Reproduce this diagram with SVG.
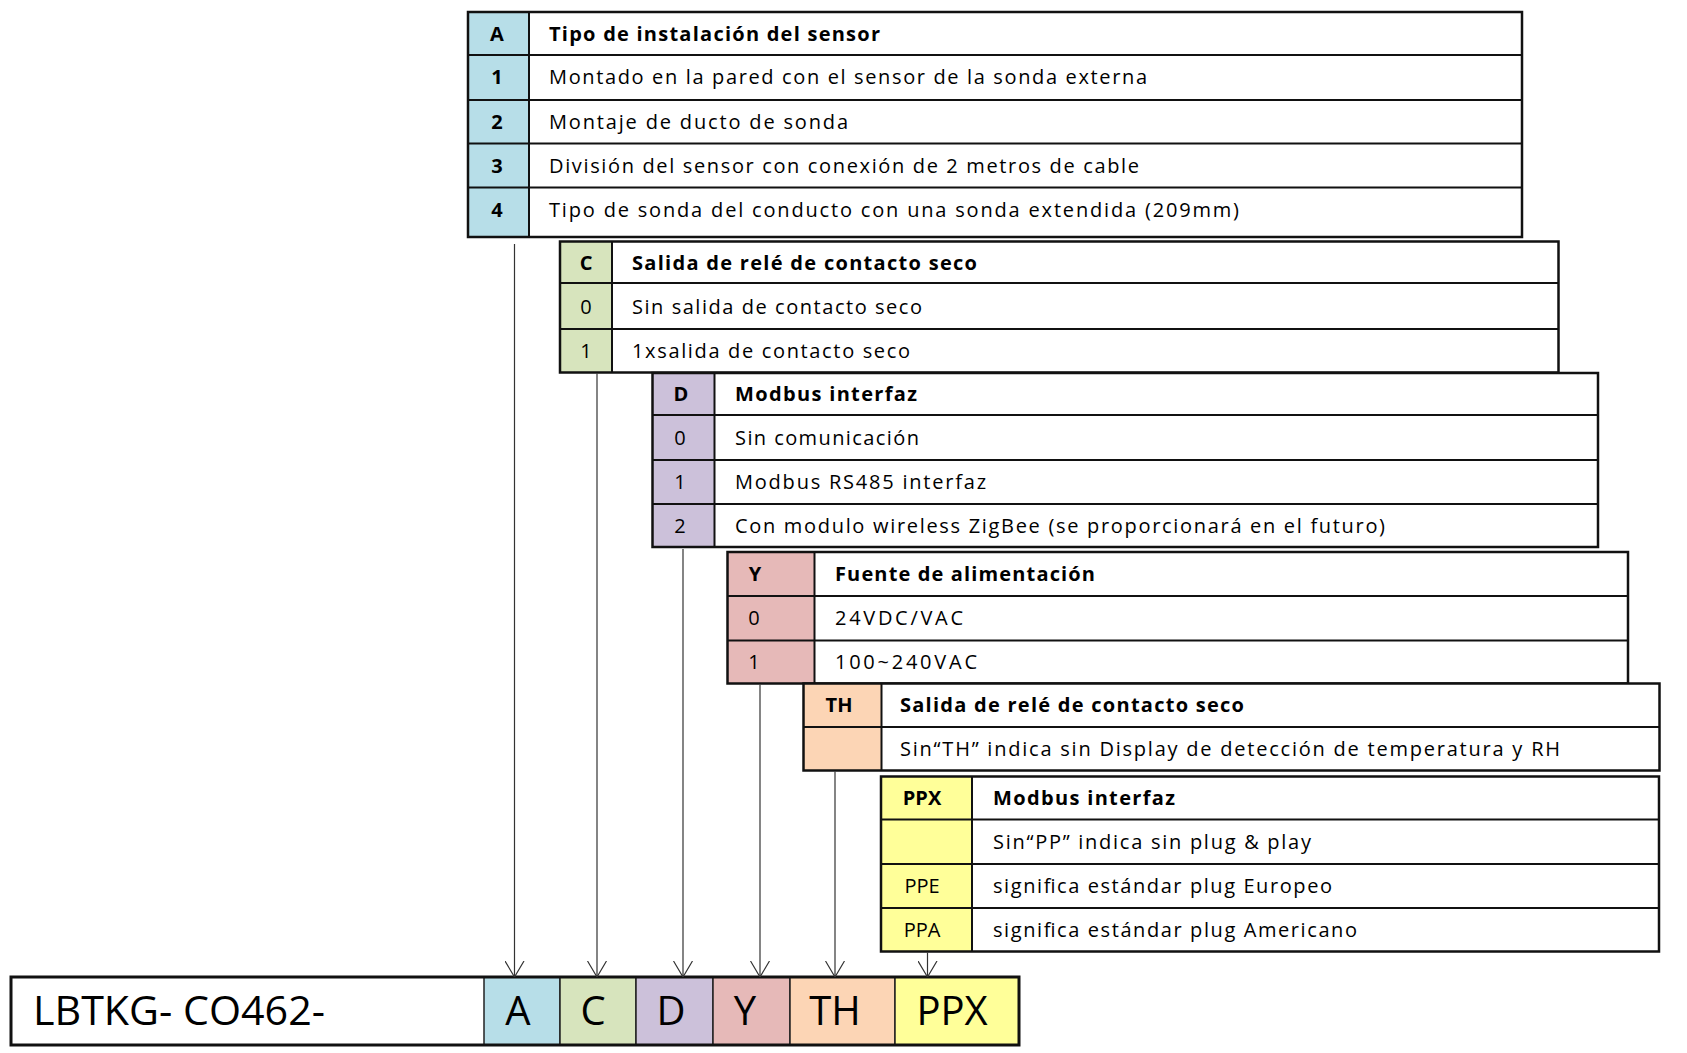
<svg xmlns="http://www.w3.org/2000/svg" width="1687" height="1053" viewBox="0 0 1687 1053">
<defs>
<style>
.bd{fill:none;stroke:#111;stroke-width:2.5}
.ln{stroke:#111;stroke-width:2}
.w{fill:#fff}
.t{font-family:"Open Sans","Liberation Sans",sans-serif;font-size:20px;fill:#000}
.b{font-weight:bold}
.k{text-anchor:middle}
.big{font-family:"Open Sans","Liberation Sans",sans-serif;font-size:40px;fill:#000}
.cell{stroke:#222;stroke-width:1.5}
.conn{stroke:#333;stroke-width:1.2;fill:none;marker-end:url(#arr)}
.cA{fill:#b7dee8}.cC{fill:#d7e4bd}.cD{fill:#ccc1da}.cY{fill:#e6b9b8}.cT{fill:#fcd5b5}.cP{fill:#ffff99}
</style>
<marker id="arr" markerUnits="userSpaceOnUse" markerWidth="16" markerHeight="20" viewBox="0 0 16 20" refX="16" refY="10" orient="auto">
<path d="M0,0.5 L16,10 L0,19.5" fill="none" stroke="#333" stroke-width="1.2"/>
</marker>
</defs>
<rect width="1687" height="1053" fill="#fff"/>

<g id="table-A">
<rect class="w" x="468" y="12" width="1054" height="225"/>
<rect class="cA" x="468" y="12" width="61" height="225"/>
<line class="ln" x1="468" y1="55" x2="1522" y2="55"/>
<line class="ln" x1="468" y1="100" x2="1522" y2="100"/>
<line class="ln" x1="468" y1="143.5" x2="1522" y2="143.5"/>
<line class="ln" x1="468" y1="187.5" x2="1522" y2="187.5"/>
<line class="ln" x1="529" y1="12" x2="529" y2="237"/>
<rect class="bd" x="468" y="12" width="1054" height="225"/>
<text class="t b k" x="497" y="40.7">A</text>
<text class="t b k" x="497" y="84">1</text>
<text class="t b k" x="497" y="129.3">2</text>
<text class="t b k" x="497" y="172.7">3</text>
<text class="t b k" x="497" y="216.7">4</text>
<text class="t b" x="549" y="40.7" textLength="331" lengthAdjust="spacing">Tipo de instalación del sensor</text>
<text class="t" x="549" y="84" textLength="598" lengthAdjust="spacing">Montado en la pared con el sensor de la sonda externa</text>
<text class="t" x="549" y="129.3" textLength="299" lengthAdjust="spacing">Montaje de ducto de sonda</text>
<text class="t" x="549" y="172.7" textLength="590" lengthAdjust="spacing">División del sensor con conexión de 2 metros de cable</text>
<text class="t" x="549" y="216.7" textLength="690" lengthAdjust="spacing">Tipo de sonda del conducto con una sonda extendida (209mm)</text>
</g>

<g id="table-C">
<rect class="w" x="560" y="241.5" width="998.5" height="131"/>
<rect class="cC" x="560" y="241.5" width="52" height="131"/>
<line class="ln" x1="560" y1="283" x2="1558.5" y2="283"/>
<line class="ln" x1="560" y1="329" x2="1558.5" y2="329"/>
<line class="ln" x1="612" y1="241.5" x2="612" y2="372.5"/>
<rect class="bd" x="560" y="241.5" width="998.5" height="131"/>
<text class="t b k" x="586" y="270">C</text>
<text class="t k" x="586" y="313.5">0</text>
<text class="t k" x="586" y="358">1</text>
<text class="t b" x="632" y="270" textLength="345" lengthAdjust="spacing">Salida de relé de contacto seco</text>
<text class="t" x="632" y="313.5" textLength="290" lengthAdjust="spacing">Sin salida de contacto seco</text>
<text class="t" x="632" y="358" textLength="278" lengthAdjust="spacing">1xsalida de contacto seco</text>
</g>

<g id="table-D">
<rect class="w" x="652.5" y="373" width="945.5" height="174"/>
<rect class="cD" x="652.5" y="373" width="62" height="174"/>
<line class="ln" x1="652.5" y1="415" x2="1598" y2="415"/>
<line class="ln" x1="652.5" y1="460" x2="1598" y2="460"/>
<line class="ln" x1="652.5" y1="504" x2="1598" y2="504"/>
<line class="ln" x1="714.5" y1="373" x2="714.5" y2="547"/>
<rect class="bd" x="652.5" y="373" width="945.5" height="174"/>
<text class="t b k" x="681" y="401">D</text>
<text class="t k" x="680" y="444.5">0</text>
<text class="t k" x="680" y="489">1</text>
<text class="t k" x="680" y="532.5">2</text>
<text class="t b" x="735" y="401" textLength="182" lengthAdjust="spacing">Modbus interfaz</text>
<text class="t" x="735" y="444.5" textLength="184" lengthAdjust="spacing">Sin comunicación</text>
<text class="t" x="735" y="489" textLength="251" lengthAdjust="spacing">Modbus RS485 interfaz</text>
<text class="t" x="735" y="532.5" textLength="650" lengthAdjust="spacing">Con modulo wireless ZigBee (se proporcionará en el futuro)</text>
</g>

<g id="table-Y">
<rect class="w" x="727.5" y="552" width="900.5" height="131.5"/>
<rect class="cY" x="727.5" y="552" width="87" height="131.5"/>
<line class="ln" x1="727.5" y1="596" x2="1628" y2="596"/>
<line class="ln" x1="727.5" y1="640.5" x2="1628" y2="640.5"/>
<line class="ln" x1="814.5" y1="552" x2="814.5" y2="683.5"/>
<rect class="bd" x="727.5" y="552" width="900.5" height="131.5"/>
<text class="t b k" x="755" y="581">Y</text>
<text class="t k" x="754" y="625">0</text>
<text class="t k" x="754" y="669">1</text>
<text class="t b" x="835" y="581" textLength="260" lengthAdjust="spacing">Fuente de alimentación</text>
<text class="t" x="835" y="625" textLength="128" lengthAdjust="spacing">24VDC/VAC</text>
<text class="t" x="835" y="669" textLength="142" lengthAdjust="spacing">100~240VAC</text>
</g>

<g id="table-TH">
<rect class="w" x="803.5" y="683.5" width="856" height="87"/>
<rect class="cT" x="803.5" y="683.5" width="78" height="87"/>
<line class="ln" x1="803.5" y1="727" x2="1659.5" y2="727"/>
<line class="ln" x1="881.5" y1="683.5" x2="881.5" y2="770.5"/>
<rect class="bd" x="803.5" y="683.5" width="856" height="87"/>
<text class="t b k" x="839" y="712">TH</text>
<text class="t b" x="900" y="712" textLength="344" lengthAdjust="spacing">Salida de relé de contacto seco</text>
<text class="t" x="900" y="756" textLength="660" lengthAdjust="spacing">Sin“TH” indica sin Display de detección de temperatura y RH</text>
</g>

<g id="table-PPX">
<rect class="w" x="881" y="776.5" width="778" height="175"/>
<rect class="cP" x="881" y="776.5" width="91" height="175"/>
<line class="ln" x1="881" y1="819.5" x2="1659" y2="819.5"/>
<line class="ln" x1="881" y1="864" x2="1659" y2="864"/>
<line class="ln" x1="881" y1="908" x2="1659" y2="908"/>
<line class="ln" x1="972" y1="776.5" x2="972" y2="951.5"/>
<rect class="bd" x="881" y="776.5" width="778" height="175"/>
<text class="t b k" x="922" y="805">PPX</text>
<text class="t k" x="922" y="893">PPE</text>
<text class="t k" x="922" y="937">PPA</text>
<text class="t b" x="993" y="805" textLength="182" lengthAdjust="spacing">Modbus interfaz</text>
<text class="t" x="993" y="849" textLength="318" lengthAdjust="spacing">Sin“PP” indica sin plug &amp; play</text>
<text class="t" x="993" y="893" textLength="339" lengthAdjust="spacing">significa estándar plug Europeo</text>
<text class="t" x="993" y="937" textLength="364" lengthAdjust="spacing">significa estándar plug Americano</text>
</g>

<g id="code-bar">
<rect x="11" y="977" width="1008" height="68" fill="#fff"/>
<rect class="cA cell" x="484" y="977" width="76" height="68"/>
<rect class="cC cell" x="560" y="977" width="76" height="68"/>
<rect class="cD cell" x="636" y="977" width="77" height="68"/>
<rect class="cY cell" x="713" y="977" width="77" height="68"/>
<rect class="cT cell" x="790" y="977" width="105" height="68"/>
<rect class="cP cell" x="895" y="977" width="124" height="68"/>
<rect x="11" y="977" width="1008" height="68" fill="none" stroke="#111" stroke-width="3"/>
<text class="big" x="33" y="1025" textLength="292" lengthAdjust="spacingAndGlyphs">LBTKG- CO462-</text>
<text class="big k" x="518" y="1025">A</text>
<text class="big k" x="593" y="1025">C</text>
<text class="big k" x="671" y="1025">D</text>
<text class="big k" x="745" y="1025">Y</text>
<text class="big k" x="835" y="1025">TH</text>
<text class="big k" x="952" y="1025">PPX</text>
</g>

<g id="connectors">
<line class="conn" x1="514.5" y1="244" x2="514.5" y2="977"/>
<line class="conn" x1="597" y1="373.5" x2="597" y2="977"/>
<line class="conn" x1="683" y1="549" x2="683" y2="977"/>
<line class="conn" x1="760" y1="684.5" x2="760" y2="977"/>
<line class="conn" x1="835" y1="771.5" x2="835" y2="977"/>
<line class="conn" x1="927.5" y1="952.5" x2="927.5" y2="977"/>
</g>
</svg>
